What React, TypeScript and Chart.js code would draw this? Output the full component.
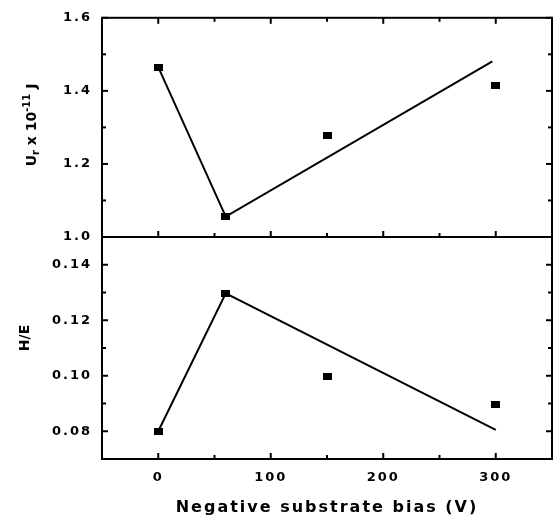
import React, { useEffect, useRef } from 'react';
import { Chart, registerables } from 'chart.js';
Chart.register(...registerables);

// ---- data ----
const biasPoints = [0, 60, 150, 300];
const urValues = [1.464, 1.057, 1.277, 1.415];
const heValues = [0.08, 0.1295, 0.0998, 0.0898];
const urFitX = [0, 60, 297];
const urFitY = [1.465, 1.056, 1.481];
const heFitX = [0, 60, 300];
const heFitY = [0.08, 0.1297, 0.0805];
const xMajorTicks = [0, 100, 200, 300];
const xMinorTicks = [50, 150, 250];
const urMajorTicks = [1.0, 1.2, 1.4, 1.6];
const urMinorTicks = [1.1, 1.3, 1.5];
const heMajorTicks = [0.08, 0.1, 0.12, 0.14];
const heMinorTicks = [0.09, 0.11, 0.13];
const xTitle = 'Negative substrate bias (V)';
const urTitle = [
  { t: 'U', s: 14, dy: 0 },
  { t: 'r', s: 10, dy: 3 },
  { t: ' x 10', s: 14, dy: 0 },
  { t: '-11', s: 10, dy: -6 },
  { t: ' J', s: 14, dy: 0 },
];
const heTitle = [{ t: 'H/E', s: 14, dy: 0 }];

const FONT = '"DejaVu Sans", "Liberation Sans", Arial, sans-serif';

type Seg = { t: string; s: number; dy: number };

function makeFramePlugin(cfg: {
  xMajor: number[];
  xMinor: number[];
  yMajor: number[];
  yMinor: number[];
  tickTop: boolean;
  title: Seg[];
  titleX: number;
  titleY: number;
}) {
  return {
    id: 'frame',
    beforeDraw(chart: any) {
      chart.ctx.letterSpacing = '2px';
    },
    afterDraw(chart: any) {
      const { ctx, chartArea } = chart;
      const { left, top, right, bottom } = chartArea;
      const xs = chart.scales.x;
      const ys = chart.scales.y;
      ctx.save();
      ctx.letterSpacing = '0px';
      ctx.strokeStyle = '#000';
      ctx.lineWidth = 2;
      ctx.strokeRect(left, top, right - left, bottom - top);
      const line = (x1: number, y1: number, x2: number, y2: number) => {
        ctx.beginPath();
        ctx.moveTo(x1, y1);
        ctx.lineTo(x2, y2);
        ctx.stroke();
      };
      const xt = (vals: number[], len: number) => {
        vals.forEach((v) => {
          const px = xs.getPixelForValue(v);
          if (cfg.tickTop) line(px, top, px, top + len);
          line(px, bottom, px, bottom - len);
        });
      };
      const yt = (vals: number[], len: number) => {
        vals.forEach((v) => {
          const py = ys.getPixelForValue(v);
          line(left, py, left + len, py);
          line(right, py, right - len, py);
        });
      };
      xt(cfg.xMajor, 6);
      xt(cfg.xMinor, 4);
      yt(cfg.yMajor, 6);
      yt(cfg.yMinor, 4);

      // rotated y title with sub/superscripts
      ctx.fillStyle = '#000';
      ctx.textBaseline = 'alphabetic';
      ctx.textAlign = 'left';
      let total = 0;
      cfg.title.forEach((sg) => {
        ctx.font = `bold ${sg.s}px ${FONT}`;
        total += ctx.measureText(sg.t).width;
      });
      ctx.translate(cfg.titleX, cfg.titleY);
      ctx.rotate(-Math.PI / 2);
      let pos = -total / 2;
      cfg.title.forEach((sg) => {
        ctx.font = `bold ${sg.s}px ${FONT}`;
        ctx.fillText(sg.t, pos, sg.dy);
        pos += ctx.measureText(sg.t).width;
      });
      ctx.restore();
    },
  };
}

function makePointImage() {
  const c = document.createElement('canvas');
  c.width = 9;
  c.height = 7;
  const g = c.getContext('2d')!;
  g.fillStyle = '#000';
  g.fillRect(0, 0, 9, 7);
  return c;
}

function buildConfig(opts: {
  values: number[];
  fitX: number[];
  fitY: number[];
  yMin: number;
  yMax: number;
  yMajor: number[];
  yMinor: number[];
  digits: number;
  showX: boolean;
  padding: any;
  title: Seg[];
  titleX: number;
  titleY: number;
  tickTop: boolean;
}): any {
  const img = makePointImage();
  const tickFont = { family: FONT, size: 13, weight: 'bold' as const };
  return {
    type: 'scatter',
    data: {
      datasets: [
        {
          data: opts.fitX.map((x, i) => ({ x, y: opts.fitY[i] })),
          showLine: true,
          borderColor: '#000',
          borderWidth: 2,
          pointRadius: 0,
          fill: false,
          tension: 0,
        },
        {
          data: biasPoints.map((x, i) => ({ x, y: opts.values[i] })),
          showLine: false,
          pointStyle: img,
          pointRadius: 5,
          backgroundColor: '#000',
          borderColor: '#000',
        },
      ],
    },
    options: {
      animation: false,
      responsive: false,
      events: [],
      layout: { padding: opts.padding },
      plugins: { legend: { display: false }, tooltip: { enabled: false } },
      scales: {
        x: {
          type: 'linear',
          min: -50,
          max: 350,
          display: opts.showX,
          afterBuildTicks: (s: any) => {
            s.ticks = xMajorTicks.map((v) => ({ value: v }));
          },
          afterFit: (s: any) => {
            if (opts.showX) s.height = 61;
          },
          grid: { display: false, drawTicks: false },
          border: { display: false },
          ticks: {
            font: tickFont,
            color: '#000',
            padding: 11,
            maxRotation: 0,
            autoSkip: false,
            callback: (v: any) => String(v),
          },
          title: {
            display: opts.showX,
            text: xTitle,
            color: '#000',
            font: { family: FONT, size: 16, weight: 'bold' },
            padding: { top: 2, bottom: 3 },
          },
        },
        y: {
          type: 'linear',
          min: opts.yMin,
          max: opts.yMax,
          afterBuildTicks: (s: any) => {
            s.ticks = opts.yMajor.map((v) => ({ value: v }));
          },
          afterFit: (s: any) => {
            s.width = 102;
          },
          grid: { display: false, drawTicks: false },
          border: { display: false },
          ticks: {
            font: tickFont,
            color: '#000',
            padding: 10,
            autoSkip: false,
            callback: (v: any) => Number(v).toFixed(opts.digits),
          },
          title: { display: false },
        },
      },
    },
    plugins: [
      makeFramePlugin({
        xMajor: xMajorTicks,
        xMinor: xMinorTicks,
        yMajor: opts.yMajor,
        yMinor: opts.yMinor,
        tickTop: opts.tickTop,
        title: opts.title,
        titleX: opts.titleX,
        titleY: opts.titleY,
      }),
    ],
  };
}

export default function App() {
  const topRef = useRef<HTMLCanvasElement>(null);
  const botRef = useRef<HTMLCanvasElement>(null);

  useEffect(() => {
    const c1 = new Chart(
      topRef.current!,
      buildConfig({
        values: urValues,
        fitX: urFitX,
        fitY: urFitY,
        yMin: 1.0,
        yMax: 1.6,
        yMajor: urMajorTicks,
        yMinor: urMinorTicks,
        digits: 1,
        showX: false,
        padding: { left: 0, top: 16, right: 2, bottom: 283 },
        title: urTitle,
        titleX: 36,
        titleY: 125,
        tickTop: true,
      })
    );
    const c2 = new Chart(
      botRef.current!,
      buildConfig({
        values: heValues,
        fitX: heFitX,
        fitY: heFitY,
        yMin: 0.07,
        yMax: 0.15,
        yMajor: heMajorTicks,
        yMinor: heMinorTicks,
        digits: 2,
        showX: true,
        padding: { left: 0, top: 237, right: 2, bottom: 0 },
        title: heTitle,
        titleX: 29,
        titleY: 338,
        tickTop: false,
      })
    );
    return () => {
      c1.destroy();
      c2.destroy();
    };
  }, []);

  const cs: React.CSSProperties = { position: 'absolute', left: 0, top: 0 };
  return (
    <div style={{ position: 'absolute', left: 0, top: 0, width: 558, height: 520, background: '#fff' }}>
      <canvas ref={topRef} width={558} height={520} style={cs} />
      <canvas ref={botRef} width={558} height={520} style={cs} />
    </div>
  );
}
